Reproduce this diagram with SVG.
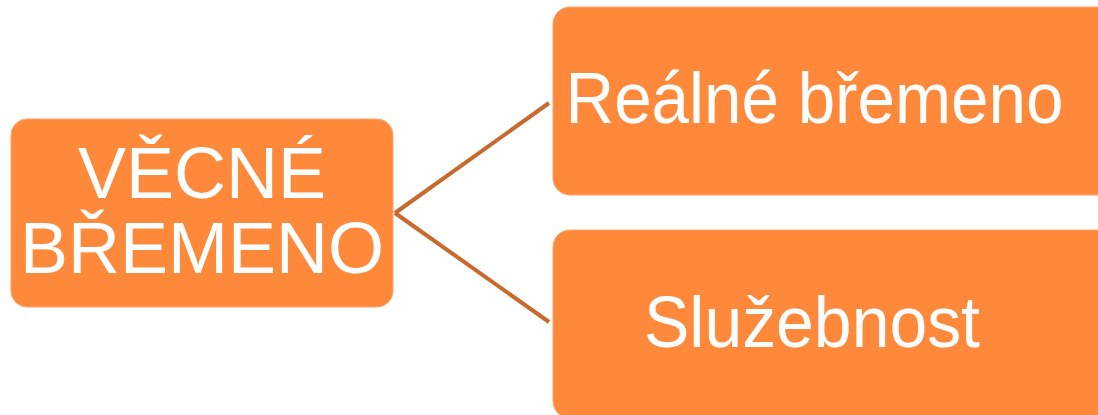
<svg xmlns="http://www.w3.org/2000/svg" width="1098" height="415" viewBox="0 0 1098 415">
  <style>
    .box { fill: #FF893A; stroke: #FFA46A; stroke-width: 1; }
    .lbl { font-family: "Liberation Sans", Arial, sans-serif; font-size: 72px; fill: #FFFFFF; }
    .conn { fill: none; stroke: #C9692C; stroke-width: 4; }
  </style>
  <rect width="1098" height="415" fill="#FFFFFF"/>
  <g id="connectors">
    <line class="conn" x1="395" y1="213" x2="549" y2="103"/>
    <line class="conn" x1="395" y1="213" x2="549" y2="322"/>
  </g>
  <g id="node-vecne-bremeno">
    <rect class="box" x="11" y="119" width="382" height="188" rx="16" ry="16"/>
    <text class="lbl" x="202" y="198" text-anchor="middle">VĚCNÉ</text>
    <text class="lbl" x="202" y="273" text-anchor="middle">BŘEMENO</text>
  </g>
  <g id="node-realne-bremeno">
    <rect class="box" x="553" y="7" width="580" height="188" rx="17" ry="17"/>
    <text class="lbl" x="565.5" y="123" textLength="498" lengthAdjust="spacingAndGlyphs">Reálné břemeno</text>
  </g>
  <g id="node-sluzebnost">
    <rect class="box" x="553" y="230" width="580" height="188" rx="17" ry="17"/>
    <text class="lbl" x="644" y="347" textLength="336" lengthAdjust="spacingAndGlyphs">Služebnost</text>
  </g>
</svg>
